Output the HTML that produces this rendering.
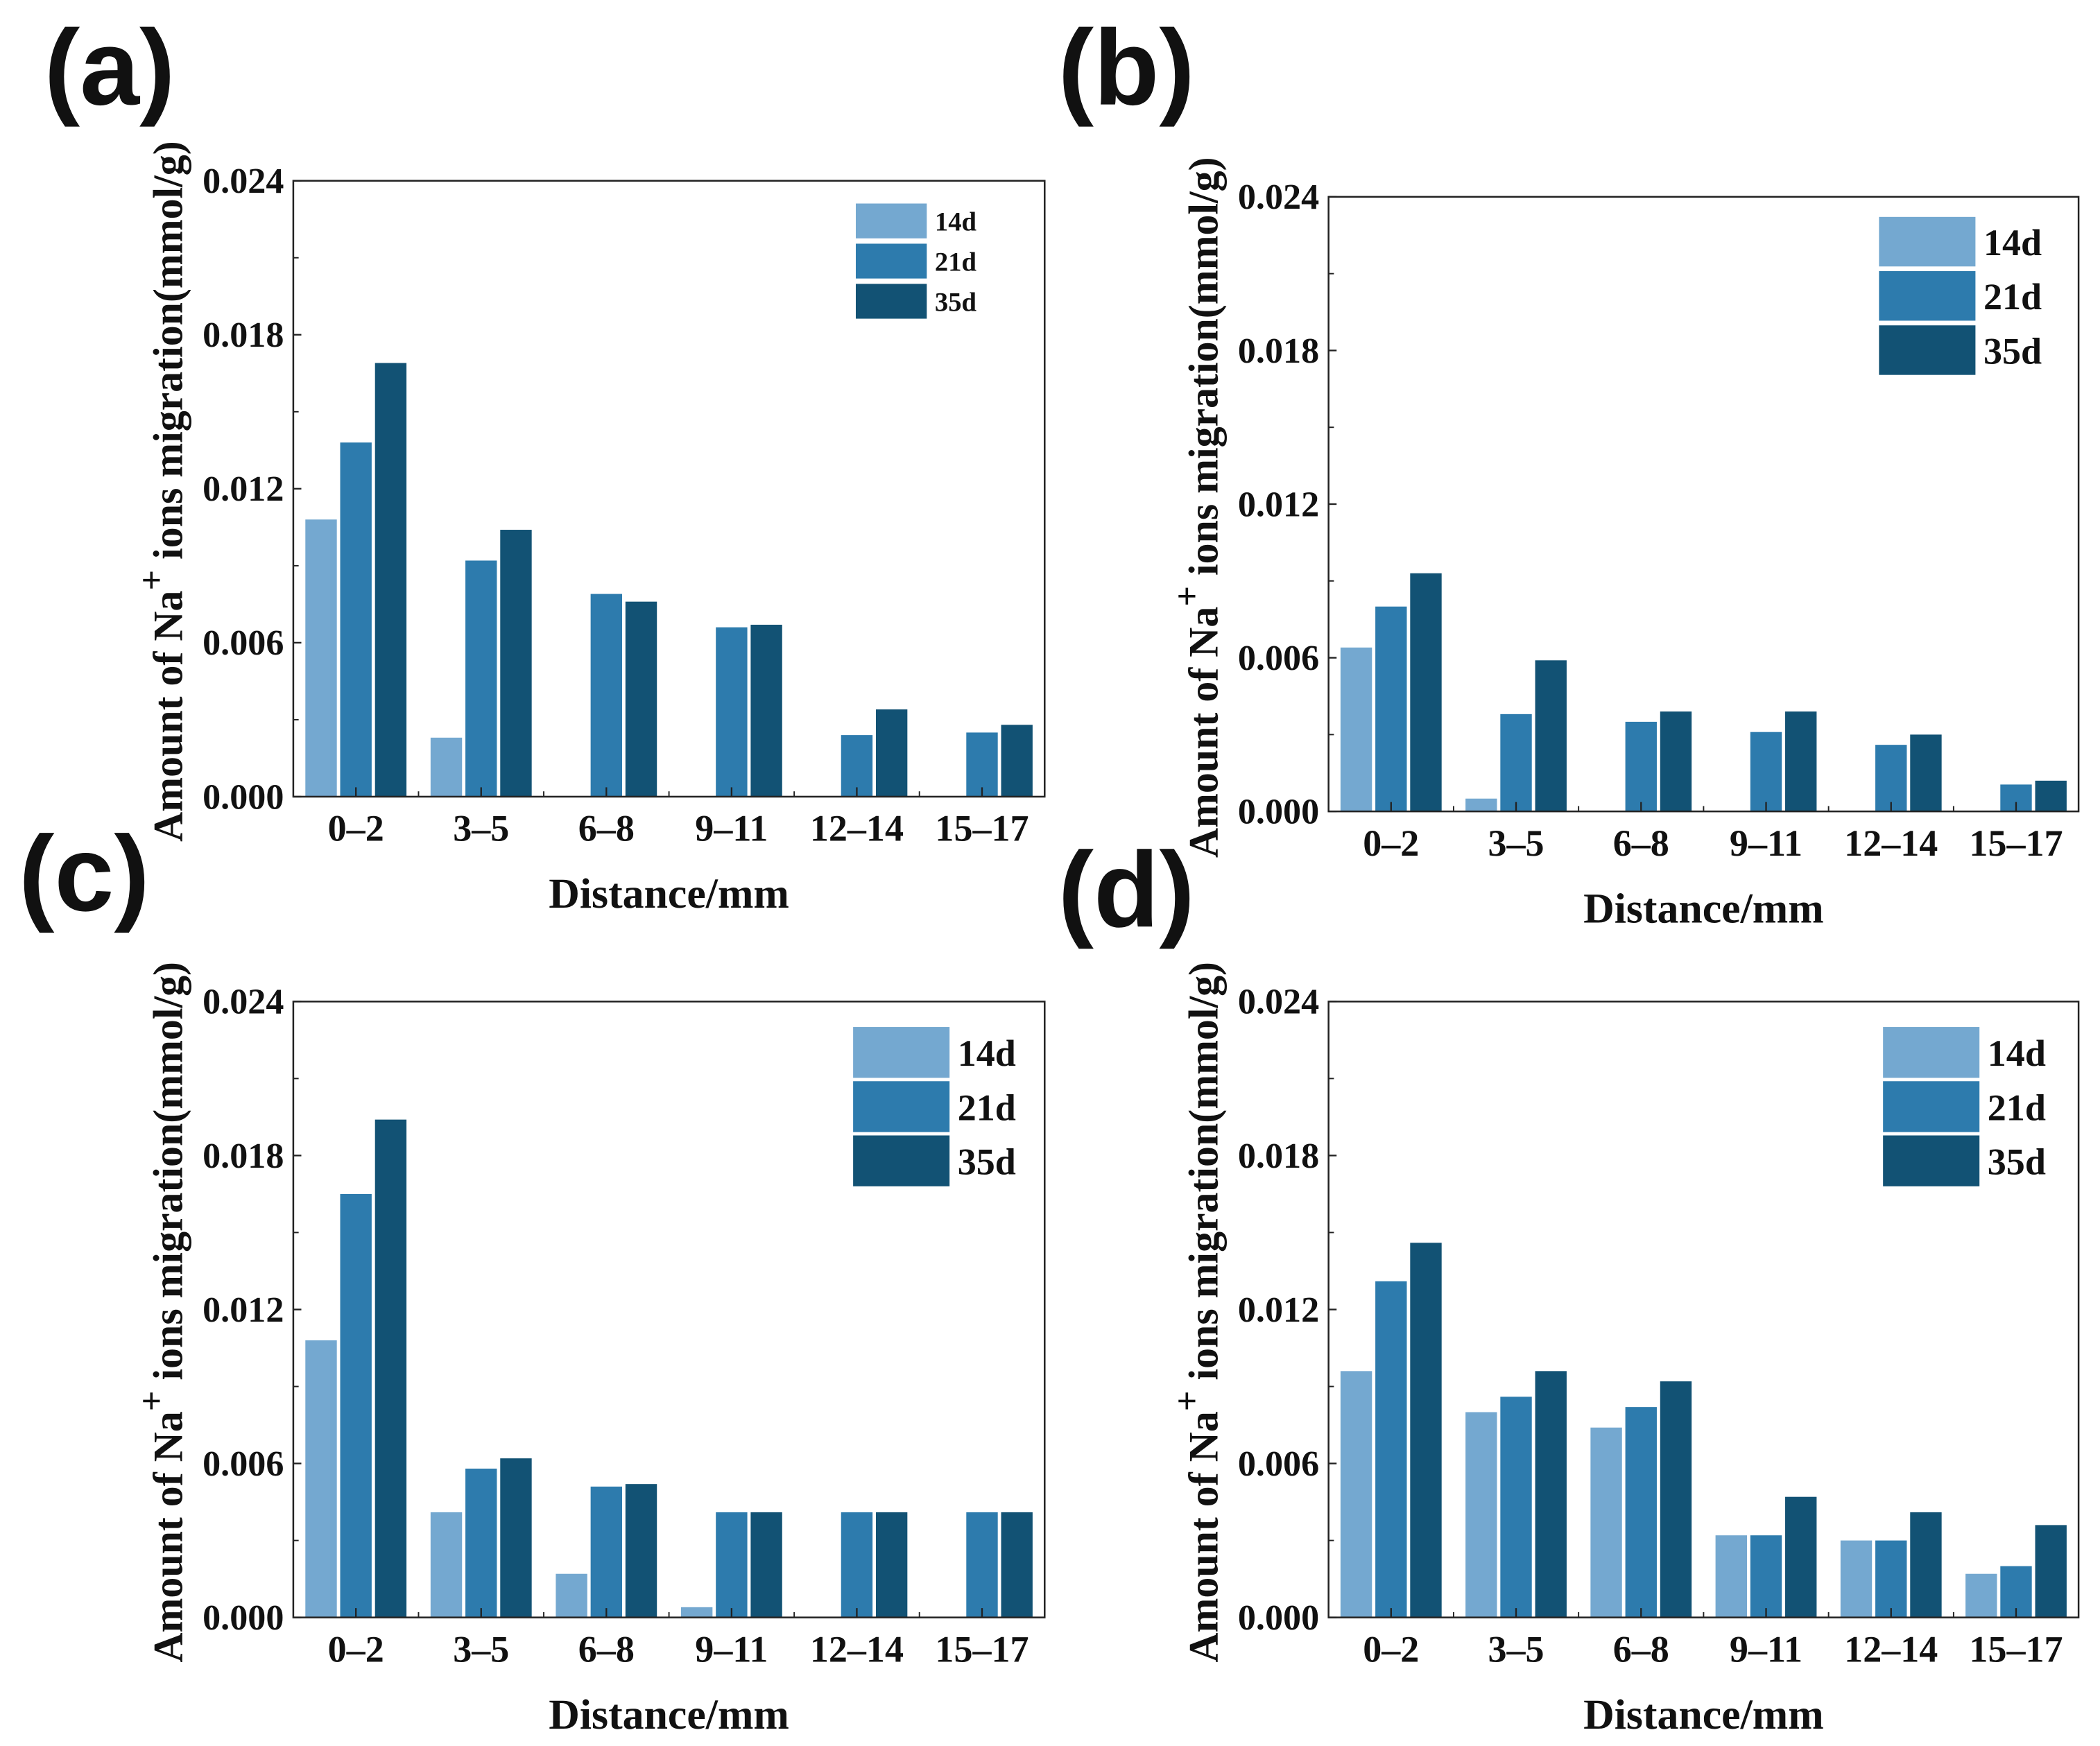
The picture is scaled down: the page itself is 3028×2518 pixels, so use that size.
<!DOCTYPE html>
<html><head><meta charset="utf-8"><style>
html,body{margin:0;padding:0;background:#fff;}
svg{display:block;}
text{font-family:"Liberation Serif",serif;font-weight:bold;fill:#111;}
.pl{font-family:"Liberation Sans",sans-serif;font-weight:bold;}
</style></head><body>
<svg id="fig" width="3028" height="2518" viewBox="0 0 1568 1304" preserveAspectRatio="none" xmlns="http://www.w3.org/2000/svg"></svg>
<script>
const categories = ["0–2","3–5","6–8","9–11","12–14","15–17"];
const seriesNames = ["14d","21d","35d"];
const yTicks = [0, 0.006, 0.012, 0.018, 0.024];
const yTickLabels = ["0.000","0.006","0.012","0.018","0.024"];
const aD14 = [0.0108, 0.0023, 0, 0, 0, 0];
const aD21 = [0.0138, 0.0092, 0.0079, 0.0066, 0.0024, 0.0025];
const aD35 = [0.0169, 0.0104, 0.0076, 0.0067, 0.0034, 0.0028];
const bD14 = [0.0064, 0.0005, 0, 0, 0, 0];
const bD21 = [0.0080, 0.0038, 0.0035, 0.0031, 0.0026, 0.00105];
const bD35 = [0.0093, 0.0059, 0.0039, 0.0039, 0.0030, 0.0012];
const cD14 = [0.0108, 0.0041, 0.0017, 0.0004, 0, 0];
const cD21 = [0.0165, 0.0058, 0.0051, 0.0041, 0.0041, 0.0041];
const cD35 = [0.0194, 0.0062, 0.0052, 0.0041, 0.0041, 0.0041];
const dD14 = [0.0096, 0.0080, 0.0074, 0.0032, 0.0030, 0.0017];
const dD21 = [0.0131, 0.0086, 0.0082, 0.0032, 0.0030, 0.0020];
const dD35 = [0.0146, 0.0096, 0.0092, 0.0047, 0.0041, 0.0036];
const colors = ["#74a8d0","#2d7bad","#125274"];
const NS = "http://www.w3.org/2000/svg";
const svg = document.getElementById("fig");
function mk(tag, attrs, parent, txt){
  const e = document.createElementNS(NS, tag);
  for (const k in attrs) e.setAttribute(k, attrs[k]);
  if (txt !== undefined) e.textContent = txt;
  (parent||svg).appendChild(e);
  return e;
}
const panels = [
 {id:"a", L:219,R:780,T:135,B:595, lab:[33,78], data:[aD14,aD21,aD35], leg:{x:639,y:152,w:53,h:26,gap:30,fs:20}},
 {id:"b", L:992,R:1552,T:147,B:606, lab:[790,78], data:[bD14,bD21,bD35], leg:{x:1403,y:162,w:72,h:37,gap:40.5,fs:28}},
 {id:"c", L:219,R:780,T:748,B:1208, lab:[14,680], data:[cD14,cD21,cD35], leg:{x:637,y:767,w:72,h:38,gap:40.5,fs:28}},
 {id:"d", L:992,R:1552,T:748,B:1208, lab:[790,692], data:[dD14,dD21,dD35], leg:{x:1406,y:767,w:72,h:38,gap:40.5,fs:28}}
];
panels.forEach(p=>{
  const g = mk("g",{});
  
  
  const yMax = 0.024;
  const yS = v => p.B - v/yMax*(p.B-p.T);
  const step = (p.R-p.L)/categories.length;
  const xC = i => p.L + step*(i+0.5);
  const bw = 23.5, bg = 2.5;
  p.data.forEach((arr,s)=>{
    arr.forEach((v,i)=>{
      if (v<=0) return;
      const x = xC(i) + (s-1)*(bw+bg) - bw/2;
      const r = mk("rect",{x:x,y:yS(v),width:bw,height:p.B-yS(v),fill:colors[s]},g);
      
      
    });
  });
  const fr = mk("rect",{x:p.L,y:p.T,width:p.R-p.L,height:p.B-p.T,fill:"none",stroke:"#222","stroke-width":1.3},g);
  
  
  yTicks.forEach((v,k)=>{
    const y = yS(v);
    mk("line",{x1:p.L,x2:p.L+6,y1:y,y2:y,stroke:"#222","stroke-width":1.2},g);
    if (k<yTicks.length-1){ const ym=yS(v+0.003); mk("line",{x1:p.L,x2:p.L+4,y1:ym,y2:ym,stroke:"#222","stroke-width":1},g); }
    const t = mk("text",{x:p.L-7,y:y+9,"text-anchor":"end","font-size":27},g,yTickLabels[k]);
    
    
  });
  categories.forEach((c,i)=>{
    mk("line",{x1:xC(i),x2:xC(i),y1:p.B,y2:p.B-7,stroke:"#222","stroke-width":1.2},g);
    if (i>0) mk("line",{x1:p.L+step*i,x2:p.L+step*i,y1:p.B,y2:p.B-4,stroke:"#222","stroke-width":1},g);
    const t = mk("text",{x:xC(i),y:p.B+33,"text-anchor":"middle","font-size":28},g,c);
    
    
  });
  const xt = mk("text",{x:(p.L+p.R)/2,y:p.B+83,"text-anchor":"middle","font-size":32},g,"Distance/mm");
  
  
  const cy = p.T + 232;
  const yt = mk("text",{x:0,y:0,"text-anchor":"middle","font-size":31,transform:"translate("+(p.L-83)+","+cy+") rotate(-90)"},g);
  
  
  mk("tspan",{},yt,"Amount of Na");
  mk("tspan",{dy:-14,"font-size":27},yt,"+");
  mk("tspan",{dy:14},yt," ions migration(mmol/g)");
  const pl = mk("text",{x:p.lab[0],y:p.lab[1],"font-size":80,"class":"pl"},g,"("+p.id+")");
  
  
  seriesNames.forEach((n,s)=>{
    const L = p.leg;
    const r = mk("rect",{x:L.x,y:L.y+s*L.gap,width:L.w,height:L.h,fill:colors[s]},g);
    
    
    const t = mk("text",{x:L.x+L.w+6,y:L.y+s*L.gap+L.h*0.5+L.fs*0.36,"font-size":L.fs},g,n);
    
    
  });
});
</script>
</body></html>
